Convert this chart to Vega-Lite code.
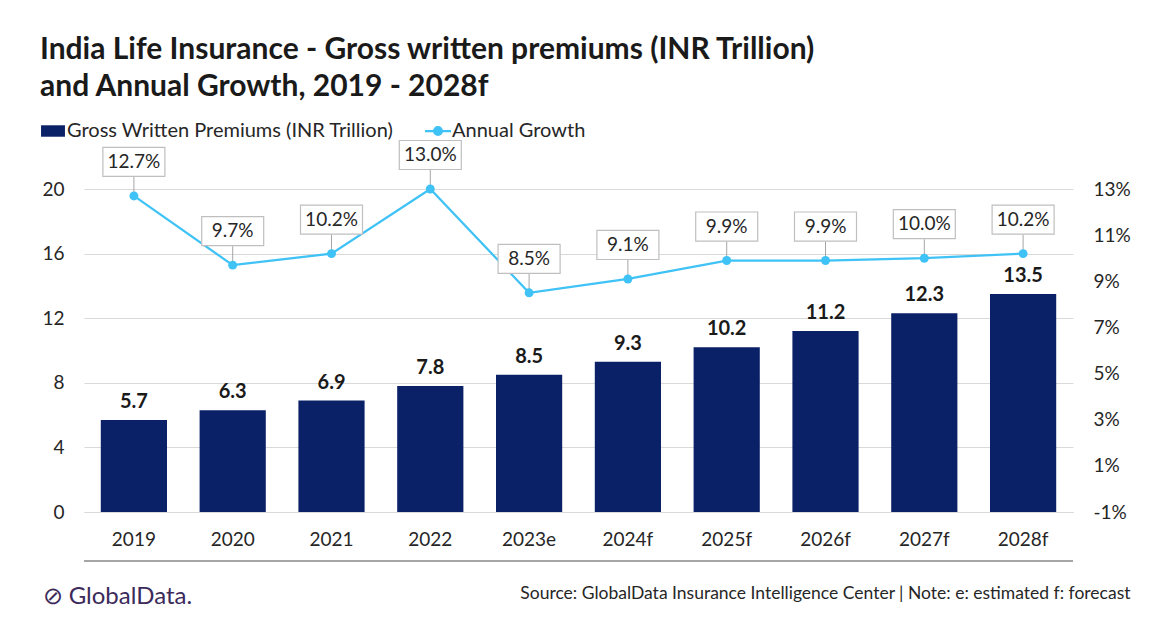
{
  "$schema": "https://vega.github.io/schema/vega-lite/v6.json",
  "width": 989,
  "height": 323,
  "autosize": {"type": "none"},
  "padding": {"left": 84, "top": 189, "right": 99, "bottom": 116},
  "background": "white",
  "title": {
    "text": ["India Life Insurance - Gross written premiums (INR Trillion)", "and Annual Growth, 2019 - 2028f"],
    "anchor": "start",
    "frame": "group",
    "dx": -44,
    "font": "Lato",
    "fontSize": 30,
    "fontWeight": "bold",
    "color": "#1a1a1a",
    "lineHeight": 37,
    "offset": 19
  },
  "config": {
    "view": {"stroke": null},
    "font": "Lato",
    "axis": {"labelFont": "Lato", "labelFontSize": 19, "labelColor": "#262626", "ticks": false, "domain": false, "gridColor": "#D9D9D9"},
    "legend": {"labelFont": "Lato", "labelFontSize": 20, "labelColor": "#262626", "labelLimit": 0}
  },
  "data": {
    "values": [
      {"year": "2019", "premium": 5.7, "growth": 0.127},
      {"year": "2020", "premium": 6.3, "growth": 0.097},
      {"year": "2021", "premium": 6.9, "growth": 0.102},
      {"year": "2022", "premium": 7.8, "growth": 0.130},
      {"year": "2023e", "premium": 8.5, "growth": 0.085},
      {"year": "2024f", "premium": 9.3, "growth": 0.091},
      {"year": "2025f", "premium": 10.2, "growth": 0.099},
      {"year": "2026f", "premium": 11.2, "growth": 0.099},
      {"year": "2027f", "premium": 12.3, "growth": 0.100},
      {"year": "2028f", "premium": 13.5, "growth": 0.102}
    ]
  },
  "encoding": {
    "x": {
      "field": "year",
      "type": "ordinal",
      "sort": null,
      "scale": {"paddingInner": 0.33, "paddingOuter": 0.17},
      "axis": {
        "labelAngle": 0,
        "labelPadding": 18,
        "domain": true,
        "domainColor": "#D9D9D9",
        "title": "Source: GlobalData Insurance Intelligence Center | Note: e: estimated f: forecast",
        "titleFont": "Lato",
        "titleFontSize": 17.5,
        "titleFontWeight": "normal",
        "titleColor": "#262626",
        "titleAlign": "right",
        "titleAnchor": null,
        "titleX": 1046,
        "titleY": 86,
        "titleBaseline": "alphabetic"
      }
    }
  },
  "layer": [
    {
      "layer": [
        {
          "mark": {"type": "rule", "stroke": "#A6A6A6", "strokeWidth": 1.5},
          "encoding": {"y": {"datum": -3.03}, "x": null}
        },
        {
          "mark": {"type": "bar", "color": "#0B2167"},
          "encoding": {
            "y": {
              "field": "premium",
              "type": "quantitative",
              "scale": {"domain": [0, 20]},
              "axis": {
                "values": [0, 4, 8, 12, 16, 20],
                "grid": true,
                "labelPadding": 20,
                "title": "⊘ GlobalData.",
                "titleAngle": 0,
                "titleAlign": "left",
                "titleBaseline": "alphabetic",
                "titleX": -42,
                "titleY": 414,
                "titleFont": "Lato",
                "titleFontSize": 24,
                "titleFontWeight": "normal",
                "titleColor": "#3B2A5A"
              }
            },
            "color": {
              "datum": "Gross Written Premiums (INR Trillion)",
              "scale": {"domain": ["Gross Written Premiums (INR Trillion)", "Annual Growth"], "range": ["#0B2167", "#3FC2F5"]},
              "legend": {
                "title": null,
                "orient": "none",
                "legendX": -41,
                "legendY": -68,
                "direction": "horizontal",
                "symbolSize": 676,
                "labelOffset": 4,
                "columnPadding": 26,
                "symbolOpacity": 1,
                "encode": {
                  "symbols": {
                    "update": {
                      "shape": {"signal": "datum.value === 'Annual Growth' ? 'M-1,0L-0.3,0M0.3,0L1,0M-0.3,0A0.3,0.3 0 1,1 0.3,0A0.3,0.3 0 1,1 -0.3,0Z' : 'M-0.92,-0.44L0.92,-0.44L0.92,0.44L-0.92,0.44Z'"},
                      "fill": {"signal": "datum.value === 'Annual Growth' ? '#3FC2F5' : '#0B2167'"},
                      "stroke": {"signal": "datum.value === 'Annual Growth' ? '#3FC2F5' : '#0B2167'"},
                      "strokeWidth": {"signal": "datum.value === 'Annual Growth' ? 2.25 : 0"},
                      "opacity": {"value": 1}
                    }
                  }
                }
              }
            }
          }
        },
        {
          "mark": {"type": "text", "baseline": "alphabetic", "dy": -12, "font": "Lato", "fontSize": 20, "fontWeight": "bold", "color": "#1a1a1a"},
          "encoding": {
            "y": {"field": "premium", "type": "quantitative"},
            "text": {"field": "premium", "type": "quantitative", "format": ".1f"}
          }
        }
      ]
    },
    {
      "layer": [
        {
          "mark": {"type": "line", "color": "#3FC2F5", "strokeWidth": 2.25},
          "encoding": {
            "y": {
              "field": "growth",
              "type": "quantitative",
              "scale": {"domain": [-0.01, 0.13]},
              "axis": {
                "orient": "right",
                "values": [-0.01, 0.01, 0.03, 0.05, 0.07, 0.09, 0.11, 0.13],
                "format": ".0%",
                "labelExpr": "replace(datum.label, '\u2212', '-')",
                "grid": false,
                "labelPadding": 20,
                "title": null
              }
            },
            "color": {"datum": "Annual Growth"}
          }
        },
        {
          "mark": {"type": "rule", "stroke": "#A6A6A6", "strokeWidth": 1, "y2Offset": -19},
          "encoding": {
            "y": {"field": "growth", "type": "quantitative"},
            "y2": {"field": "growth"}
          }
        },
        {
          "mark": {"type": "point", "filled": true, "size": 80, "color": "#3FC2F5", "opacity": 1},
          "encoding": {"y": {"field": "growth", "type": "quantitative"}}
        },
        {
          "mark": {"type": "point", "shape": "M-1,-0.468L1,-0.468L1,0.468L-1,0.468Z", "size": 3844, "filled": false, "fill": "white", "fillOpacity": 1, "stroke": "#BFBFBF", "strokeWidth": 1.2, "opacity": 1, "yOffset": -34},
          "encoding": {"y": {"field": "growth", "type": "quantitative"}}
        },
        {
          "mark": {"type": "text", "baseline": "middle", "yOffset": -34, "font": "Lato", "fontSize": 19, "color": "#262626"},
          "encoding": {
            "y": {"field": "growth", "type": "quantitative"},
            "text": {"field": "growth", "type": "quantitative", "format": ".1%"}
          }
        }
      ]
    }
  ],
  "resolve": {"scale": {"y": "independent"}}
}
